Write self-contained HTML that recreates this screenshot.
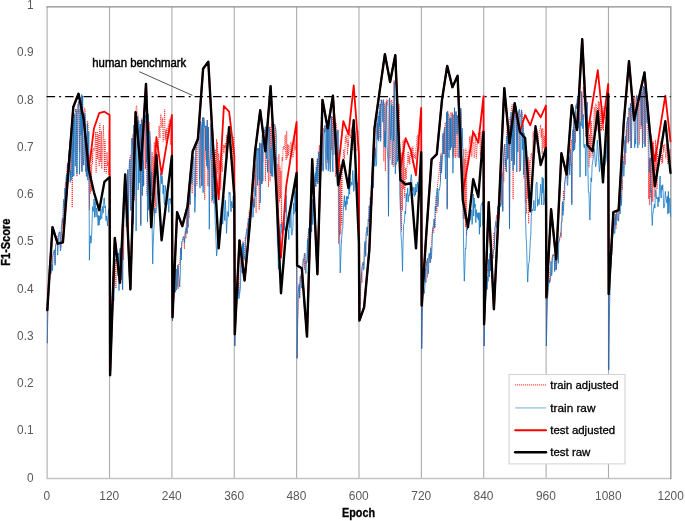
<!DOCTYPE html>
<html><head><meta charset="utf-8"><title>F1-Score by Epoch</title>
<style>html,body{margin:0;padding:0;background:#fff;}body{width:685px;height:521px;overflow:hidden;}</style>
</head><body>
<svg width="685" height="521" viewBox="0 0 685 521" style="display:block">
<rect x="0" y="0" width="685" height="521" fill="#ffffff"/>
<line x1="109.52" y1="6.8" x2="109.52" y2="478.6" stroke="#acacac" stroke-width="1.1"/>
<line x1="171.89" y1="6.8" x2="171.89" y2="478.6" stroke="#acacac" stroke-width="1.1"/>
<line x1="234.26" y1="6.8" x2="234.26" y2="478.6" stroke="#acacac" stroke-width="1.1"/>
<line x1="296.63" y1="6.8" x2="296.63" y2="478.6" stroke="#acacac" stroke-width="1.1"/>
<line x1="359.00" y1="6.8" x2="359.00" y2="478.6" stroke="#acacac" stroke-width="1.1"/>
<line x1="421.37" y1="6.8" x2="421.37" y2="478.6" stroke="#acacac" stroke-width="1.1"/>
<line x1="483.74" y1="6.8" x2="483.74" y2="478.6" stroke="#acacac" stroke-width="1.1"/>
<line x1="546.11" y1="6.8" x2="546.11" y2="478.6" stroke="#acacac" stroke-width="1.1"/>
<line x1="608.48" y1="6.8" x2="608.48" y2="478.6" stroke="#acacac" stroke-width="1.1"/>
<path d="M47.15,6.8 V478.6 H670.85" fill="none" stroke="#c2c2c2" stroke-width="1.5"/>
<path d="M46.45,6.8 H670.85 V479.3" fill="none" stroke="#8c8c8c" stroke-width="1.2"/>
<polyline points="47.3,343.2 47.8,309.1 48.3,278.9 48.9,284.0 49.4,266.1 49.9,261.0 50.4,260.0 50.9,258.7 51.5,270.1 52.0,268.2 52.5,256.1 53.0,254.7 53.5,250.8 54.1,251.1 54.6,249.8 55.1,263.3 55.6,245.4 56.1,243.7 56.6,240.1 57.2,237.9 57.7,236.0 58.2,234.9 58.7,235.6 59.2,232.2 59.8,232.3 60.3,232.2 60.8,247.9 61.3,241.0 61.8,224.4 62.4,218.6 62.9,228.9 63.4,205.1 63.9,199.4 64.4,218.0 65.0,188.0 65.5,182.0 66.0,192.5 66.5,174.2 67.0,167.3 67.6,162.8 68.1,175.6 68.6,154.2 69.1,150.0 69.6,164.8 70.2,139.6 70.7,174.6 71.2,136.3 71.7,133.8 72.2,207.4 72.7,168.1 73.3,119.9 73.8,152.3 74.3,114.0 74.8,113.3 75.3,112.7 75.9,108.5 76.4,112.3 76.9,176.6 77.4,112.7 77.9,104.3 78.5,112.6 79.0,110.1 79.5,151.7 80.0,105.4 80.5,97.5 81.1,135.2 81.6,171.1 82.1,162.7 82.6,95.7 83.1,149.0 83.7,165.3 84.2,155.5 84.7,107.9 85.2,112.1 85.7,167.7 86.2,176.8 86.8,176.3 87.3,120.9 87.8,122.2 88.3,127.8 88.8,164.3 89.4,209.9 89.9,167.2 90.4,193.7 90.9,164.5 91.4,191.1 92.0,149.0 92.5,163.5 93.0,151.0 93.5,148.1 94.0,150.4 94.6,150.3 95.1,145.1 95.6,131.8 96.1,172.6 96.6,141.0 97.2,131.5 97.7,159.2 98.2,134.5 98.7,151.0 99.2,166.3 99.8,123.5 100.3,151.5 100.8,162.0 101.3,131.1 101.8,168.8 102.3,154.8 102.9,139.4 103.4,124.9 103.9,148.9 104.4,171.7 104.9,139.5 105.5,164.0 106.0,173.4 106.5,173.0 107.0,152.0 107.5,165.8 108.1,161.7 108.6,175.0 109.1,129.9 109.6,169.7 110.1,370.1 110.7,336.5 111.2,307.6 111.7,301.2 112.2,294.2 112.7,290.7 113.3,284.3 113.8,276.4 114.3,267.5 114.8,259.9 115.3,259.0 115.9,288.3 116.4,259.7 116.9,255.6 117.4,255.3 117.9,253.3 118.4,253.0 119.0,279.6 119.5,252.3 120.0,248.3 120.5,247.8 121.0,279.8 121.6,249.2 122.1,282.7 122.6,289.6 123.1,233.6 123.6,260.0 124.2,205.5 124.7,199.1 125.2,196.8 125.7,184.2 126.2,184.0 126.8,211.3 127.3,213.7 127.8,169.6 128.3,229.9 128.8,193.5 129.4,163.1 129.9,157.2 130.4,155.4 130.9,210.5 131.4,200.0 132.0,138.2 132.5,145.2 133.0,134.2 133.5,195.5 134.0,125.0 134.5,200.8 135.1,122.5 135.6,117.4 136.1,107.0 136.6,105.6 137.1,111.3 137.7,113.7 138.2,115.0 138.7,120.6 139.2,129.0 139.7,131.8 140.3,124.1 140.8,223.9 141.3,118.6 141.8,119.5 142.3,195.6 142.9,160.5 143.4,179.8 143.9,184.8 144.4,109.8 144.9,123.0 145.5,169.0 146.0,120.6 146.5,162.5 147.0,195.6 147.5,161.4 148.1,113.8 148.6,166.4 149.1,121.9 149.6,130.8 150.1,134.7 150.6,143.3 151.2,187.5 151.7,159.5 152.2,152.2 152.7,194.1 153.2,156.5 153.8,194.4 154.3,141.9 154.8,213.4 155.3,144.9 155.8,206.5 156.4,152.0 156.9,163.5 157.4,143.9 157.9,141.5 158.4,151.7 159.0,125.9 159.5,132.4 160.0,138.0 160.5,115.9 161.0,114.3 161.6,127.3 162.1,127.0 162.6,117.8 163.1,141.6 163.6,140.5 164.1,121.0 164.7,109.6 165.2,139.8 165.7,130.3 166.2,143.3 166.7,128.5 167.3,141.7 167.8,129.0 168.3,124.5 168.8,130.7 169.3,119.5 169.9,130.1 170.4,144.9 170.9,128.5 171.4,126.5 171.9,147.0 172.5,321.0 173.0,302.4 173.5,301.7 174.0,280.6 174.5,276.6 175.1,292.8 175.6,269.8 176.1,268.9 176.6,269.3 177.1,286.4 177.7,265.2 178.2,288.9 178.7,263.8 179.2,264.9 179.7,260.5 180.2,256.4 180.8,247.8 181.3,254.1 181.8,241.6 182.3,240.1 182.8,238.5 183.4,236.8 183.9,236.6 184.4,249.0 184.9,236.7 185.4,230.9 186.0,238.4 186.5,213.0 187.0,232.8 187.5,218.7 188.0,227.4 188.6,202.4 189.1,218.3 189.6,186.1 190.1,204.7 190.6,174.5 191.2,168.0 191.7,183.9 192.2,193.3 192.7,159.0 193.2,156.8 193.8,156.1 194.3,186.0 194.8,184.4 195.3,197.0 195.8,146.9 196.3,148.3 196.9,185.7 197.4,138.0 197.9,135.1 198.4,139.1 198.9,128.7 199.5,179.3 200.0,176.9 200.5,121.4 201.0,124.3 201.5,186.1 202.1,122.6 202.6,117.7 203.1,125.8 203.6,117.4 204.1,119.6 204.7,199.7 205.2,125.9 205.7,150.6 206.2,160.3 206.7,128.4 207.3,120.1 207.8,185.9 208.3,126.7 208.8,163.0 209.3,186.8 209.9,159.9 210.4,123.4 210.9,124.5 211.4,139.3 211.9,202.4 212.4,144.3 213.0,177.7 213.5,153.0 214.0,198.1 214.5,153.0 215.0,195.7 215.6,149.4 216.1,193.3 216.6,139.0 217.1,173.4 217.6,142.2 218.2,187.6 218.7,153.3 219.2,170.0 219.7,160.6 220.2,163.2 220.8,189.9 221.3,162.3 221.8,164.6 222.3,171.9 222.8,147.9 223.4,144.7 223.9,153.0 224.4,145.3 224.9,148.0 225.4,142.8 226.0,155.8 226.5,135.2 227.0,159.5 227.5,142.0 228.0,134.1 228.5,133.6 229.1,140.7 229.6,144.4 230.1,149.6 230.6,159.0 231.1,148.8 231.7,157.5 232.2,158.9 232.7,145.3 233.2,136.9 233.7,136.7 234.3,151.2 234.8,346.0 235.3,320.1 235.8,298.5 236.3,294.2 236.9,291.5 237.4,288.2 237.9,286.1 238.4,282.8 238.9,294.0 239.5,290.2 240.0,274.6 240.5,267.5 241.0,259.9 241.5,254.8 242.1,261.7 242.6,242.0 243.1,241.2 243.6,264.8 244.1,253.3 244.6,251.0 245.2,237.3 245.7,239.4 246.2,233.5 246.7,229.5 247.2,227.3 247.8,222.5 248.3,235.4 248.8,216.3 249.3,210.6 249.8,219.8 250.4,224.3 250.9,204.2 251.4,199.6 251.9,200.8 252.4,197.4 253.0,196.8 253.5,207.1 254.0,182.2 254.5,174.9 255.0,187.0 255.6,164.4 256.1,212.9 256.6,150.8 257.1,148.3 257.6,150.3 258.1,148.7 258.7,148.2 259.2,209.7 259.7,142.9 260.2,186.1 260.7,143.4 261.3,143.6 261.8,184.0 262.3,139.8 262.8,161.9 263.3,130.8 263.9,128.9 264.4,132.7 264.9,129.3 265.4,181.2 265.9,130.4 266.5,158.4 267.0,166.3 267.5,172.2 268.0,159.9 268.5,187.1 269.1,126.6 269.6,132.7 270.1,181.2 270.6,127.3 271.1,148.4 271.7,123.3 272.2,128.2 272.7,122.0 273.2,149.8 273.7,123.7 274.2,124.9 274.8,162.5 275.3,126.7 275.8,185.4 276.3,169.9 276.8,157.0 277.4,205.2 277.9,163.9 278.4,222.5 278.9,154.1 279.4,202.3 280.0,166.6 280.5,198.2 281.0,171.0 281.5,227.2 282.0,157.1 282.6,161.0 283.1,146.5 283.6,146.7 284.1,149.6 284.6,144.4 285.2,134.9 285.7,153.6 286.2,160.2 286.7,131.0 287.2,158.3 287.8,144.2 288.3,155.7 288.8,145.2 289.3,147.0 289.8,147.6 290.3,159.6 290.9,141.9 291.4,145.3 291.9,147.2 292.4,143.4 292.9,157.5 293.5,153.4 294.0,151.0 294.5,138.4 295.0,149.9 295.5,147.0 296.1,145.2 296.6,135.9 297.1,358.3 297.6,324.3 298.1,311.0 298.7,288.3 299.2,283.4 299.7,298.3 300.2,277.0 300.7,274.8 301.3,273.9 301.8,284.9 302.3,267.6 302.8,265.2 303.3,259.0 303.9,258.8 304.4,269.9 304.9,253.4 305.4,264.3 305.9,263.6 306.4,261.0 307.0,262.3 307.5,240.0 308.0,234.9 308.5,231.2 309.0,227.8 309.6,244.8 310.1,219.9 310.6,217.4 311.1,210.1 311.6,220.6 312.2,200.6 312.7,198.9 313.2,210.9 313.7,188.7 314.2,181.6 314.8,179.1 315.3,175.8 315.8,186.7 316.3,166.8 316.8,162.4 317.4,158.6 317.9,183.5 318.4,182.0 318.9,152.4 319.4,145.1 319.9,176.2 320.5,135.7 321.0,163.0 321.5,163.5 322.0,133.0 322.5,134.0 323.1,170.1 323.6,128.4 324.1,129.4 324.6,126.3 325.1,125.3 325.7,131.6 326.2,129.2 326.7,123.6 327.2,124.8 327.7,163.0 328.3,145.2 328.8,121.9 329.3,156.3 329.8,161.8 330.3,169.0 330.9,124.2 331.4,116.5 331.9,150.2 332.4,116.3 332.9,155.1 333.5,120.8 334.0,122.3 334.5,116.0 335.0,124.5 335.5,176.9 336.0,122.8 336.6,127.1 337.1,163.3 337.6,157.5 338.1,153.4 338.6,243.9 339.2,150.3 339.7,235.7 340.2,164.4 340.7,234.0 341.2,165.3 341.8,224.5 342.3,170.8 342.8,165.7 343.3,156.0 343.8,149.4 344.4,158.8 344.9,150.7 345.4,135.7 345.9,142.9 346.4,142.0 347.0,134.2 347.5,154.6 348.0,140.5 348.5,146.5 349.0,130.4 349.6,135.5 350.1,134.3 350.6,138.2 351.1,128.7 351.6,133.3 352.1,126.8 352.7,150.4 353.2,136.2 353.7,127.5 354.2,138.1 354.7,148.9 355.3,132.4 355.8,150.0 356.3,150.7 356.8,150.2 357.3,138.1 357.9,130.8 358.4,141.6 358.9,150.7 359.4,320.5 359.9,302.2 360.5,303.6 361.0,281.2 361.5,272.8 362.0,283.0 362.5,264.9 363.1,262.4 363.6,265.3 364.1,251.6 364.6,245.7 365.1,243.0 365.7,255.0 366.2,233.1 366.7,229.9 367.2,226.9 367.7,232.4 368.2,227.5 368.8,213.3 369.3,205.5 369.8,220.5 370.3,197.6 370.8,202.5 371.4,184.5 371.9,180.2 372.4,174.1 372.9,169.6 373.4,161.6 374.0,156.7 374.5,152.3 375.0,147.9 375.5,156.7 376.0,140.5 376.6,130.3 377.1,123.2 377.6,134.3 378.1,115.8 378.6,116.4 379.2,138.4 379.7,110.0 380.2,103.8 380.7,137.8 381.2,99.7 381.8,100.9 382.3,105.1 382.8,104.3 383.3,99.8 383.8,161.4 384.3,102.8 384.9,131.1 385.4,171.2 385.9,106.3 386.4,99.6 386.9,105.7 387.5,103.4 388.0,99.5 388.5,214.5 389.0,130.3 389.5,97.9 390.1,159.4 390.6,140.2 391.1,135.1 391.6,99.9 392.1,101.5 392.7,104.8 393.2,166.7 393.7,98.0 394.2,80.1 394.7,164.5 395.3,166.9 395.8,162.9 396.3,95.1 396.8,99.1 397.3,157.9 397.9,160.4 398.4,134.9 398.9,103.9 399.4,107.7 399.9,148.7 400.4,209.8 401.0,153.3 401.5,231.3 402.0,152.6 402.5,210.4 403.0,140.6 403.6,188.9 404.1,139.6 404.6,197.6 405.1,188.1 405.6,167.9 406.2,179.3 406.7,168.2 407.2,166.5 407.7,155.1 408.2,151.5 408.8,162.9 409.3,155.7 409.8,164.8 410.3,152.5 410.8,155.0 411.4,156.6 411.9,147.3 412.4,162.8 412.9,146.7 413.4,154.1 413.9,158.1 414.5,153.6 415.0,156.9 415.5,159.0 416.0,147.8 416.5,146.0 417.1,135.7 417.6,135.3 418.1,144.3 418.6,141.5 419.1,142.5 419.7,150.5 420.2,158.4 420.7,165.0 421.2,154.9 421.7,348.8 422.3,316.5 422.8,301.3 423.3,284.4 423.8,279.4 424.3,275.0 424.9,280.2 425.4,268.5 425.9,266.8 426.4,264.8 426.9,260.9 427.5,277.5 428.0,269.0 428.5,257.5 429.0,255.1 429.5,254.4 430.0,252.7 430.6,261.7 431.1,258.0 431.6,238.3 432.1,233.4 432.6,228.8 433.2,226.7 433.7,232.8 434.2,219.0 434.7,227.9 435.2,226.4 435.8,202.7 436.3,195.7 436.8,212.7 437.3,188.0 437.8,182.6 438.4,177.8 438.9,173.1 439.4,169.3 439.9,161.7 440.4,180.6 441.0,153.1 441.5,170.2 442.0,161.8 442.5,138.5 443.0,134.5 443.6,153.9 444.1,131.2 444.6,154.2 445.1,122.6 445.6,122.5 446.1,157.4 446.7,112.4 447.2,207.4 447.7,110.7 448.2,150.7 448.7,114.1 449.3,116.3 449.8,118.1 450.3,150.0 450.8,112.3 451.3,114.8 451.9,114.8 452.4,112.2 452.9,156.5 453.4,114.7 453.9,157.6 454.5,107.8 455.0,147.9 455.5,157.8 456.0,111.6 456.5,115.9 457.1,157.2 457.6,115.6 458.1,118.4 458.6,119.4 459.1,157.8 459.7,134.0 460.2,137.2 460.7,108.2 461.2,115.2 461.7,164.8 462.2,164.5 462.8,172.3 463.3,218.6 463.8,149.0 464.3,219.1 464.8,158.9 465.4,227.1 465.9,148.7 466.4,235.6 466.9,165.5 467.4,160.9 468.0,151.2 468.5,151.8 469.0,151.4 469.5,136.6 470.0,143.6 470.6,141.9 471.1,135.6 471.6,156.8 472.1,156.6 472.6,129.8 473.2,143.0 473.7,142.6 474.2,157.8 474.7,154.3 475.2,139.5 475.8,134.2 476.3,158.6 476.8,152.9 477.3,143.3 477.8,142.8 478.3,132.4 478.9,135.4 479.4,127.7 479.9,137.6 480.4,155.6 480.9,131.9 481.5,142.4 482.0,145.0 482.5,130.1 483.0,158.4 483.5,157.9 484.1,346.0 484.6,317.8 485.1,293.6 485.6,287.9 486.1,281.9 486.7,275.6 487.2,273.0 487.7,268.7 488.2,271.9 488.7,259.4 489.3,276.9 489.8,256.0 490.3,270.7 490.8,247.5 491.3,258.3 491.8,243.8 492.4,255.1 492.9,258.1 493.4,249.3 493.9,232.6 494.4,244.2 495.0,227.6 495.5,224.6 496.0,219.7 496.5,215.3 497.0,227.5 497.6,230.0 498.1,206.0 498.6,203.3 499.1,198.4 499.6,194.6 500.2,191.2 500.7,204.9 501.2,202.7 501.7,174.0 502.2,171.7 502.8,209.7 503.3,157.6 503.8,181.7 504.3,146.6 504.8,144.3 505.4,170.4 505.9,159.2 506.4,135.4 506.9,130.1 507.4,127.7 507.9,125.9 508.5,158.5 509.0,125.4 509.5,227.2 510.0,117.5 510.5,143.0 511.1,112.3 511.6,107.4 512.1,104.4 512.6,114.1 513.1,199.3 513.7,106.3 514.2,164.8 514.7,109.6 515.2,110.6 515.7,116.8 516.3,120.2 516.8,140.0 517.3,117.7 517.8,114.9 518.3,112.4 518.9,110.9 519.4,171.8 519.9,114.4 520.4,116.7 520.9,113.1 521.5,109.9 522.0,111.1 522.5,120.0 523.0,124.4 523.5,129.2 524.0,178.3 524.6,156.1 525.1,153.6 525.6,202.8 526.1,153.8 526.6,213.8 527.2,172.4 527.7,198.8 528.2,156.9 528.7,223.6 529.2,160.7 529.8,203.5 530.3,164.3 530.8,157.4 531.3,153.1 531.8,155.7 532.4,165.3 532.9,132.4 533.4,131.2 533.9,136.9 534.4,132.5 535.0,142.2 535.5,143.9 536.0,143.5 536.5,139.6 537.0,129.7 537.6,149.6 538.1,153.0 538.6,135.1 539.1,132.2 539.6,130.6 540.1,128.3 540.7,124.8 541.2,137.6 541.7,128.8 542.2,154.1 542.7,128.1 543.3,132.6 543.8,148.1 544.3,135.7 544.8,151.9 545.3,124.8 545.9,124.9 546.4,346.0 546.9,315.9 547.4,297.3 547.9,293.4 548.5,276.8 549.0,268.4 549.5,282.1 550.0,280.9 550.5,280.6 551.1,261.3 551.6,258.7 552.1,257.7 552.6,255.2 553.1,254.5 553.6,254.8 554.2,254.5 554.7,271.3 555.2,262.5 555.7,252.3 556.2,269.0 556.8,264.5 557.3,246.4 557.8,245.1 558.3,244.6 558.8,241.3 559.4,241.1 559.9,237.4 560.4,235.5 560.9,232.3 561.4,237.4 562.0,208.0 562.5,201.9 563.0,210.7 563.5,190.6 564.0,198.1 564.6,199.7 565.1,178.6 565.6,176.3 566.1,173.2 566.6,170.7 567.2,169.0 567.7,178.7 568.2,162.3 568.7,160.2 569.2,159.2 569.7,170.7 570.3,149.4 570.8,143.7 571.3,139.8 571.8,203.1 572.3,133.1 572.9,130.0 573.4,127.2 573.9,150.2 574.4,142.9 574.9,115.3 575.5,142.6 576.0,105.4 576.5,103.6 577.0,106.6 577.5,97.9 578.1,121.0 578.6,100.9 579.1,95.3 579.6,133.8 580.1,91.2 580.7,93.4 581.2,122.1 581.7,94.7 582.2,120.1 582.7,114.6 583.3,87.0 583.8,95.6 584.3,93.1 584.8,87.4 585.3,93.0 585.8,136.6 586.4,131.4 586.9,122.6 587.4,144.2 587.9,143.9 588.4,122.3 589.0,167.2 589.5,134.4 590.0,157.9 590.5,120.7 591.0,150.2 591.6,121.4 592.1,157.3 592.6,136.7 593.1,136.0 593.6,129.8 594.2,107.1 594.7,110.4 595.2,129.4 595.7,103.9 596.2,103.9 596.8,130.9 597.3,107.5 597.8,111.6 598.3,100.9 598.8,111.5 599.4,102.1 599.9,130.7 600.4,130.5 600.9,109.7 601.4,130.7 601.9,111.6 602.5,129.0 603.0,106.2 603.5,130.8 604.0,111.6 604.5,114.5 605.1,119.2 605.6,114.7 606.1,107.1 606.6,116.5 607.1,107.4 607.7,114.6 608.2,102.8 608.7,370.1 609.2,326.2 609.7,283.8 610.3,269.5 610.8,267.7 611.3,242.8 611.8,251.2 612.3,229.8 612.9,236.4 613.4,220.1 613.9,218.0 614.4,226.2 614.9,215.8 615.5,214.0 616.0,228.9 616.5,212.1 617.0,211.1 617.5,211.6 618.0,218.5 618.6,221.2 619.1,204.4 619.6,201.8 620.1,200.8 620.6,193.7 621.2,205.5 621.7,180.0 622.2,190.0 622.7,165.7 623.2,160.6 623.8,155.8 624.3,158.4 624.8,140.2 625.3,164.8 625.8,143.7 626.4,129.5 626.9,143.1 627.4,121.1 627.9,117.2 628.4,143.2 629.0,107.9 629.5,110.2 630.0,141.2 630.5,103.4 631.0,148.1 631.5,106.3 632.1,103.4 632.6,100.7 633.1,102.7 633.6,98.4 634.1,121.6 634.7,95.8 635.2,133.3 635.7,140.1 636.2,98.3 636.7,95.5 637.3,98.4 637.8,95.9 638.3,99.4 638.8,100.1 639.3,144.5 639.9,94.0 640.4,92.0 640.9,129.2 641.4,91.4 641.9,90.6 642.5,146.6 643.0,88.7 643.5,86.1 644.0,143.7 644.5,87.2 645.1,146.9 645.6,83.5 646.1,94.6 646.6,98.0 647.1,99.1 647.6,125.9 648.2,146.5 648.7,198.9 649.2,158.5 649.7,205.1 650.2,158.1 650.8,197.5 651.3,145.2 651.8,201.4 652.3,142.4 652.8,201.9 653.4,141.8 653.9,186.9 654.4,156.9 654.9,197.0 655.4,139.9 656.0,170.7 656.5,147.9 657.0,189.2 657.5,152.6 658.0,154.9 658.6,163.6 659.1,166.0 659.6,149.5 660.1,150.3 660.6,141.3 661.2,146.7 661.7,163.4 662.2,154.6 662.7,163.1 663.2,145.0 663.7,151.6 664.3,145.0 664.8,143.9 665.3,151.4 665.8,158.3 666.3,152.0 666.9,143.1 667.4,158.5 667.9,164.2 668.4,153.6 668.9,163.2 669.5,153.7 670.0,149.1 670.5,163.0" fill="none" stroke="#ff0000" stroke-width="0.8" stroke-dasharray="1 1" stroke-linejoin="round"/>
<polyline points="47.3,343.2 47.8,309.1 48.3,292.6 48.9,285.4 49.4,266.1 49.9,273.2 50.4,258.6 50.9,273.7 51.5,270.1 52.0,264.6 52.5,270.7 53.0,254.7 53.5,252.9 54.1,251.3 54.6,249.8 55.1,265.3 55.6,246.0 56.1,243.7 56.6,242.0 57.2,237.9 57.7,255.1 58.2,244.1 58.7,235.6 59.2,232.2 59.8,231.8 60.3,251.0 60.8,250.1 61.3,227.3 61.8,224.4 62.4,218.6 62.9,221.9 63.4,205.1 63.9,199.4 64.4,206.3 65.0,188.0 65.5,205.3 66.0,178.9 66.5,174.2 67.0,192.8 67.6,163.8 68.1,175.6 68.6,154.2 69.1,165.9 69.6,164.8 70.2,182.3 70.7,170.5 71.2,180.1 71.7,133.8 72.2,127.0 72.7,176.9 73.3,119.9 73.8,176.1 74.3,114.0 74.8,120.1 75.3,166.2 75.9,109.2 76.4,112.3 76.9,174.2 77.4,147.1 77.9,110.7 78.5,101.3 79.0,110.1 79.5,174.4 80.0,151.8 80.5,101.6 81.1,135.2 81.6,94.5 82.1,171.8 82.6,95.7 83.1,164.7 83.7,165.3 84.2,155.5 84.7,113.6 85.2,118.3 85.7,171.5 86.2,158.5 86.8,176.3 87.3,123.7 87.8,180.2 88.3,157.0 88.8,131.4 89.4,260.2 89.9,241.9 90.4,235.7 90.9,243.3 91.4,240.3 92.0,224.7 92.5,206.7 93.0,211.4 93.5,211.2 94.0,199.0 94.6,217.3 95.1,201.9 95.6,209.9 96.1,217.0 96.6,207.9 97.2,211.0 97.7,218.8 98.2,225.6 98.7,215.4 99.2,225.0 99.8,215.9 100.3,219.9 100.8,209.1 101.3,217.9 101.8,218.6 102.3,206.3 102.9,213.3 103.4,212.6 103.9,198.3 104.4,197.9 104.9,208.0 105.5,206.1 106.0,220.7 106.5,216.0 107.0,219.2 107.5,225.9 108.1,215.7 108.6,208.9 109.1,213.6 109.6,214.2 110.1,370.1 110.7,351.4 111.2,307.4 111.7,317.7 112.2,303.8 112.7,310.9 113.3,284.3 113.8,301.0 114.3,283.0 114.8,259.9 115.3,261.6 115.9,261.0 116.4,260.2 116.9,255.6 117.4,253.2 117.9,276.1 118.4,253.0 119.0,290.6 119.5,252.3 120.0,248.3 120.5,248.7 121.0,279.8 121.6,249.2 122.1,249.5 122.6,289.6 123.1,233.6 123.6,218.3 124.2,205.5 124.7,199.1 125.2,197.3 125.7,207.4 126.2,226.8 126.8,222.4 127.3,221.7 127.8,169.6 128.3,219.7 128.8,193.5 129.4,163.1 129.9,159.5 130.4,179.1 130.9,210.5 131.4,150.2 132.0,138.2 132.5,145.2 133.0,224.1 133.5,195.5 134.0,125.0 134.5,195.2 135.1,122.5 135.6,117.4 136.1,231.0 136.6,163.9 137.1,116.0 137.7,116.5 138.2,190.0 138.7,120.6 139.2,183.0 139.7,131.8 140.3,124.1 140.8,225.8 141.3,127.1 141.8,119.5 142.3,195.5 142.9,160.5 143.4,186.3 143.9,117.9 144.4,109.8 144.9,123.0 145.5,115.2 146.0,120.6 146.5,162.5 147.0,122.0 147.5,221.9 148.1,113.8 148.6,210.2 149.1,178.4 149.6,130.8 150.1,138.5 150.6,143.3 151.2,195.6 151.7,171.9 152.2,231.2 152.7,263.9 153.2,244.8 153.8,230.5 154.3,222.0 154.8,207.6 155.3,211.4 155.8,213.2 156.4,209.7 156.9,206.0 157.4,189.7 157.9,194.4 158.4,186.5 159.0,195.6 159.5,201.3 160.0,193.9 160.5,173.2 161.0,173.0 161.6,183.7 162.1,175.6 162.6,181.5 163.1,193.9 163.6,185.2 164.1,201.8 164.7,205.2 165.2,185.5 165.7,189.7 166.2,192.6 166.7,204.7 167.3,192.0 167.8,193.0 168.3,204.1 168.8,212.4 169.3,198.7 169.9,199.9 170.4,198.4 170.9,204.0 171.4,203.3 171.9,199.0 172.5,321.0 173.0,310.0 173.5,284.8 174.0,280.6 174.5,285.0 175.1,272.2 175.6,292.1 176.1,268.9 176.6,290.0 177.1,286.4 177.7,265.2 178.2,266.0 178.7,274.9 179.2,278.0 179.7,287.0 180.2,277.4 180.8,247.8 181.3,259.9 181.8,241.6 182.3,241.4 182.8,240.2 183.4,236.8 183.9,236.6 184.4,243.1 184.9,236.7 185.4,230.9 186.0,227.6 186.5,228.0 187.0,233.9 187.5,204.4 188.0,227.4 188.6,203.6 189.1,196.8 189.6,186.1 190.1,204.7 190.6,177.1 191.2,168.0 191.7,183.9 192.2,183.1 192.7,159.0 193.2,156.8 193.8,158.6 194.3,186.0 194.8,212.3 195.3,203.9 195.8,146.9 196.3,148.3 196.9,144.6 197.4,138.8 197.9,135.1 198.4,139.5 198.9,135.9 199.5,180.2 200.0,188.2 200.5,121.4 201.0,124.3 201.5,128.9 202.1,185.8 202.6,117.7 203.1,192.8 203.6,117.4 204.1,119.6 204.7,127.2 205.2,125.9 205.7,150.9 206.2,125.8 206.7,166.2 207.3,120.1 207.8,169.1 208.3,127.0 208.8,163.0 209.3,229.2 209.9,159.9 210.4,159.3 210.9,125.8 211.4,125.1 211.9,183.4 212.4,200.0 213.0,163.8 213.5,171.5 214.0,203.6 214.5,194.5 215.0,217.4 215.6,230.0 216.1,242.8 216.6,255.9 217.1,251.2 217.6,241.1 218.2,233.7 218.7,230.1 219.2,230.9 219.7,231.3 220.2,218.4 220.8,219.0 221.3,207.3 221.8,224.7 222.3,206.1 222.8,223.9 223.4,198.3 223.9,196.0 224.4,217.6 224.9,220.6 225.4,200.2 226.0,213.5 226.5,233.3 227.0,223.6 227.5,212.3 228.0,211.4 228.5,216.5 229.1,192.3 229.6,194.2 230.1,192.5 230.6,207.3 231.1,211.8 231.7,201.3 232.2,205.7 232.7,207.9 233.2,195.8 233.7,200.5 234.3,217.2 234.8,346.0 235.3,320.1 235.8,297.4 236.3,294.3 236.9,291.5 237.4,287.5 237.9,295.6 238.4,282.8 238.9,298.8 239.5,294.5 240.0,291.4 240.5,286.9 241.0,259.9 241.5,254.8 242.1,273.0 242.6,243.7 243.1,259.4 243.6,242.7 244.1,253.3 244.6,258.8 245.2,260.5 245.7,239.4 246.2,233.5 246.7,231.2 247.2,228.4 247.8,242.3 248.3,218.0 248.8,231.9 249.3,219.9 249.8,223.1 250.4,224.3 250.9,204.2 251.4,202.2 251.9,201.2 252.4,197.4 253.0,217.4 253.5,207.1 254.0,198.9 254.5,207.4 255.0,187.0 255.6,196.2 256.1,159.0 256.6,151.9 257.1,148.3 257.6,185.5 258.1,148.7 258.7,148.2 259.2,179.9 259.7,142.9 260.2,203.1 260.7,184.0 261.3,143.6 261.8,184.0 262.3,135.1 262.8,181.3 263.3,130.8 263.9,133.4 264.4,132.7 264.9,132.6 265.4,126.7 265.9,153.2 266.5,158.4 267.0,131.5 267.5,172.2 268.0,159.9 268.5,129.8 269.1,126.9 269.6,132.7 270.1,170.6 270.6,173.4 271.1,148.4 271.7,176.3 272.2,129.5 272.7,176.6 273.2,154.1 273.7,123.7 274.2,124.9 274.8,124.2 275.3,127.4 275.8,129.3 276.3,134.9 276.8,203.6 277.4,244.3 277.9,247.8 278.4,269.3 278.9,261.5 279.4,247.6 280.0,249.6 280.5,241.4 281.0,223.7 281.5,231.0 282.0,234.0 282.6,234.6 283.1,222.0 283.6,228.6 284.1,222.2 284.6,230.3 285.2,198.7 285.7,212.1 286.2,195.2 286.7,220.7 287.2,226.0 287.8,230.3 288.3,230.0 288.8,239.5 289.3,215.1 289.8,228.0 290.3,224.1 290.9,202.2 291.4,233.1 291.9,235.2 292.4,231.6 292.9,227.9 293.5,203.1 294.0,214.1 294.5,189.9 295.0,195.5 295.5,211.7 296.1,192.0 296.6,190.5 297.1,358.3 297.6,324.3 298.1,293.2 298.7,288.3 299.2,285.2 299.7,297.9 300.2,277.0 300.7,275.8 301.3,288.2 301.8,284.9 302.3,285.4 302.8,265.5 303.3,259.0 303.9,258.8 304.4,253.5 304.9,253.4 305.4,268.5 305.9,273.5 306.4,261.0 307.0,262.3 307.5,239.3 308.0,260.6 308.5,231.2 309.0,227.9 309.6,244.8 310.1,236.6 310.6,238.1 311.1,210.1 311.6,232.0 312.2,200.0 312.7,224.6 313.2,210.9 313.7,210.3 314.2,181.6 314.8,179.1 315.3,172.5 315.8,186.7 316.3,166.8 316.8,181.9 317.4,158.6 317.9,183.5 318.4,151.8 318.9,152.7 319.4,177.2 319.9,179.0 320.5,140.7 321.0,171.2 321.5,154.4 322.0,133.0 322.5,167.3 323.1,171.3 323.6,168.9 324.1,129.4 324.6,132.7 325.1,125.3 325.7,163.2 326.2,169.6 326.7,123.6 327.2,159.6 327.7,124.6 328.3,171.1 328.8,125.7 329.3,119.5 329.8,161.8 330.3,171.8 330.9,123.3 331.4,116.5 331.9,150.2 332.4,162.0 332.9,171.9 333.5,120.8 334.0,119.3 334.5,120.5 335.0,154.4 335.5,150.4 336.0,143.5 336.6,174.1 337.1,130.5 337.6,173.2 338.1,129.8 338.6,175.4 339.2,226.8 339.7,239.4 340.2,272.9 340.7,261.5 341.2,246.7 341.8,235.5 342.3,229.5 342.8,227.8 343.3,210.9 343.8,203.0 344.4,195.6 344.9,206.7 345.4,201.1 345.9,210.2 346.4,196.3 347.0,204.7 347.5,196.4 348.0,199.0 348.5,198.5 349.0,181.7 349.6,194.1 350.1,178.2 350.6,186.4 351.1,183.7 351.6,182.0 352.1,185.1 352.7,170.4 353.2,177.7 353.7,191.4 354.2,189.3 354.7,173.9 355.3,170.8 355.8,172.8 356.3,180.4 356.8,186.8 357.3,182.7 357.9,186.6 358.4,192.3 358.9,205.7 359.4,320.5 359.9,302.2 360.5,287.4 361.0,281.2 361.5,272.8 362.0,266.6 362.5,264.9 363.1,262.4 363.6,269.9 364.1,269.5 364.6,245.7 365.1,241.1 365.7,256.5 366.2,233.1 366.7,230.8 367.2,226.9 367.7,235.7 368.2,219.0 368.8,221.8 369.3,205.9 369.8,221.7 370.3,197.6 370.8,202.5 371.4,198.3 371.9,181.2 372.4,174.1 372.9,181.6 373.4,187.7 374.0,156.7 374.5,166.3 375.0,147.9 375.5,156.7 376.0,166.2 376.6,163.0 377.1,123.2 377.6,139.5 378.1,115.8 378.6,141.2 379.2,111.3 379.7,127.2 380.2,103.8 380.7,141.4 381.2,99.7 381.8,103.7 382.3,104.8 382.8,122.2 383.3,99.8 383.8,105.9 384.3,146.8 384.9,131.1 385.4,147.7 385.9,106.3 386.4,102.2 386.9,144.4 387.5,154.8 388.0,158.8 388.5,216.3 389.0,146.7 389.5,97.9 390.1,102.0 390.6,140.2 391.1,135.1 391.6,104.6 392.1,164.7 392.7,156.2 393.2,105.8 393.7,141.1 394.2,82.0 394.7,97.2 395.3,173.8 395.8,162.9 396.3,164.3 396.8,99.1 397.3,161.8 397.9,157.4 398.4,154.8 398.9,156.6 399.4,132.0 399.9,194.7 400.4,206.9 401.0,235.2 401.5,241.7 402.0,250.6 402.5,271.3 403.0,244.7 403.6,224.9 404.1,223.5 404.6,218.7 405.1,211.3 405.6,214.0 406.2,193.4 406.7,201.7 407.2,194.9 407.7,188.2 408.2,201.9 408.8,194.8 409.3,196.0 409.8,189.2 410.3,185.6 410.8,177.6 411.4,174.4 411.9,182.6 412.4,190.6 412.9,187.1 413.4,187.5 413.9,195.8 414.5,196.4 415.0,187.2 415.5,195.1 416.0,183.9 416.5,192.0 417.1,192.1 417.6,182.0 418.1,187.6 418.6,189.2 419.1,192.4 419.7,177.0 420.2,188.5 420.7,195.0 421.2,189.0 421.7,348.8 422.3,316.5 422.8,297.7 423.3,284.4 423.8,291.3 424.3,293.5 424.9,286.5 425.4,268.5 425.9,282.6 426.4,264.8 426.9,260.9 427.5,258.2 428.0,273.9 428.5,273.2 429.0,253.5 429.5,254.4 430.0,263.0 430.6,247.6 431.1,258.9 431.6,255.8 432.1,244.3 432.6,229.7 433.2,226.7 433.7,222.5 434.2,219.0 434.7,227.9 435.2,206.2 435.8,210.7 436.3,195.7 436.8,191.8 437.3,188.0 437.8,206.7 438.4,202.1 438.9,189.3 439.4,190.1 439.9,186.9 440.4,183.3 441.0,155.5 441.5,173.2 442.0,161.8 442.5,157.6 443.0,133.4 443.6,153.9 444.1,131.2 444.6,127.0 445.1,156.9 445.6,179.0 446.1,152.8 446.7,112.4 447.2,209.3 447.7,111.9 448.2,150.7 448.7,156.9 449.3,157.9 449.8,118.1 450.3,150.0 450.8,117.9 451.3,147.5 451.9,114.8 452.4,114.4 452.9,173.2 453.4,149.2 453.9,142.8 454.5,107.8 455.0,147.9 455.5,113.7 456.0,111.6 456.5,115.9 457.1,134.4 457.6,115.6 458.1,118.4 458.6,118.8 459.1,157.8 459.7,134.0 460.2,156.8 460.7,108.2 461.2,115.2 461.7,147.4 462.2,128.2 462.8,149.2 463.3,221.5 463.8,259.3 464.3,281.2 464.8,269.8 465.4,248.1 465.9,248.9 466.4,236.6 466.9,227.9 467.4,230.0 468.0,222.4 468.5,226.4 469.0,215.3 469.5,222.1 470.0,213.3 470.6,220.3 471.1,209.6 471.6,210.3 472.1,224.4 472.6,217.7 473.2,194.0 473.7,216.1 474.2,198.1 474.7,207.6 475.2,204.0 475.8,222.7 476.3,209.6 476.8,216.4 477.3,217.7 477.8,212.9 478.3,220.1 478.9,212.4 479.4,234.3 479.9,213.0 480.4,227.2 480.9,206.8 481.5,203.7 482.0,204.4 482.5,201.7 483.0,225.4 483.5,217.1 484.1,346.0 484.6,317.8 485.1,293.8 485.6,299.4 486.1,292.8 486.7,273.9 487.2,289.4 487.7,276.5 488.2,281.3 488.7,259.4 489.3,277.0 489.8,253.4 490.3,270.7 490.8,249.4 491.3,245.5 491.8,264.0 492.4,255.1 492.9,258.5 493.4,249.3 493.9,249.8 494.4,249.4 495.0,227.6 495.5,225.0 496.0,221.4 496.5,226.1 497.0,228.2 497.6,207.2 498.1,206.0 498.6,219.6 499.1,208.2 499.6,206.6 500.2,203.3 500.7,206.8 501.2,203.8 501.7,174.0 502.2,195.4 502.8,211.6 503.3,157.6 503.8,152.6 504.3,146.6 504.8,144.3 505.4,165.4 505.9,159.2 506.4,172.0 506.9,136.0 507.4,159.4 507.9,125.9 508.5,125.4 509.0,125.4 509.5,229.1 510.0,142.5 510.5,143.0 511.1,112.3 511.6,160.9 512.1,155.9 512.6,114.1 513.1,170.3 513.7,107.6 514.2,164.8 514.7,151.3 515.2,115.7 515.7,116.8 516.3,118.9 516.8,172.0 517.3,117.7 517.8,152.1 518.3,115.0 518.9,110.9 519.4,109.2 519.9,116.1 520.4,170.7 520.9,159.8 521.5,109.9 522.0,115.0 522.5,149.6 523.0,124.4 523.5,174.8 524.0,132.9 524.6,153.9 525.1,194.0 525.6,220.3 526.1,237.7 526.6,244.7 527.2,268.4 527.7,282.1 528.2,270.8 528.7,263.3 529.2,262.1 529.8,252.2 530.3,239.9 530.8,234.9 531.3,216.2 531.8,211.2 532.4,209.3 532.9,211.1 533.4,207.9 533.9,200.4 534.4,210.4 535.0,211.0 535.5,208.5 536.0,184.6 536.5,182.5 537.0,182.3 537.6,206.2 538.1,199.2 538.6,201.7 539.1,204.6 539.6,198.1 540.1,193.8 540.7,184.2 541.2,195.0 541.7,204.8 542.2,177.2 542.7,193.2 543.3,178.3 543.8,204.9 544.3,201.1 544.8,197.1 545.3,188.9 545.9,193.7 546.4,346.0 546.9,315.9 547.4,301.6 547.9,293.4 548.5,287.6 549.0,279.2 549.5,283.1 550.0,281.5 550.5,274.6 551.1,261.3 551.6,275.8 552.1,272.6 552.6,255.2 553.1,254.5 553.6,256.0 554.2,255.8 554.7,271.3 555.2,262.8 555.7,252.3 556.2,270.0 556.8,248.9 557.3,246.4 557.8,245.1 558.3,263.4 558.8,241.3 559.4,241.1 559.9,237.2 560.4,235.5 560.9,232.3 561.4,221.9 562.0,222.0 562.5,201.9 563.0,215.4 563.5,209.3 564.0,198.1 564.6,182.0 565.1,181.2 565.6,176.3 566.1,175.3 566.6,170.8 567.2,183.5 567.7,185.5 568.2,162.3 568.7,160.2 569.2,156.5 569.7,174.9 570.3,149.4 570.8,165.3 571.3,164.0 571.8,205.0 572.3,154.9 572.9,130.1 573.4,151.3 573.9,119.9 574.4,149.9 574.9,147.8 575.5,109.4 576.0,105.4 576.5,108.7 577.0,101.7 577.5,97.9 578.1,128.4 578.6,97.5 579.1,95.3 579.6,147.3 580.1,177.1 580.7,121.9 581.2,126.1 581.7,91.4 582.2,120.1 582.7,128.7 583.3,114.4 583.8,146.2 584.3,147.8 584.8,144.2 585.3,147.8 585.8,176.1 586.4,144.5 586.9,129.8 587.4,102.2 587.9,167.8 588.4,192.2 589.0,192.1 589.5,216.1 590.0,220.1 590.5,199.0 591.0,177.8 591.6,181.6 592.1,165.5 592.6,162.9 593.1,158.4 593.6,156.7 594.2,148.7 594.7,151.9 595.2,162.5 595.7,166.7 596.2,163.9 596.8,153.9 597.3,140.2 597.8,145.9 598.3,154.5 598.8,162.6 599.4,171.7 599.9,167.7 600.4,147.4 600.9,164.1 601.4,159.0 601.9,158.5 602.5,174.4 603.0,174.6 603.5,165.2 604.0,156.1 604.5,161.8 605.1,164.7 605.6,155.2 606.1,139.3 606.6,156.0 607.1,162.5 607.7,162.8 608.2,165.5 608.7,370.1 609.2,326.2 609.7,302.0 610.3,278.8 610.8,267.7 611.3,243.6 611.8,254.6 612.3,229.8 612.9,233.9 613.4,232.4 613.9,218.0 614.4,233.5 614.9,233.3 615.5,215.4 616.0,225.0 616.5,212.1 617.0,213.4 617.5,219.9 618.0,220.3 618.6,221.2 619.1,204.6 619.6,203.3 620.1,214.0 620.6,194.9 621.2,205.5 621.7,199.8 622.2,175.0 622.7,165.7 623.2,160.6 623.8,176.4 624.3,168.6 624.8,141.6 625.3,136.2 625.8,153.0 626.4,129.5 626.9,121.6 627.4,121.1 627.9,117.2 628.4,141.3 629.0,107.9 629.5,110.2 630.0,110.3 630.5,103.4 631.0,148.1 631.5,146.7 632.1,103.4 632.6,100.7 633.1,105.6 633.6,102.7 634.1,121.6 634.7,147.8 635.2,139.6 635.7,144.2 636.2,99.0 636.7,95.5 637.3,101.6 637.8,147.9 638.3,100.1 638.8,100.1 639.3,96.4 639.9,99.7 640.4,95.2 640.9,95.9 641.4,125.5 641.9,93.0 642.5,147.8 643.0,88.7 643.5,86.1 644.0,93.9 644.5,87.2 645.1,146.9 645.6,136.6 646.1,96.3 646.6,98.0 647.1,122.8 647.6,101.4 648.2,114.0 648.7,131.2 649.2,172.3 649.7,166.1 650.2,157.7 650.8,191.9 651.3,189.9 651.8,215.0 652.3,225.4 652.8,214.1 653.4,210.9 653.9,207.0 654.4,204.0 654.9,208.1 655.4,190.8 656.0,189.7 656.5,198.8 657.0,197.3 657.5,197.8 658.0,206.8 658.6,196.9 659.1,201.7 659.6,183.6 660.1,176.0 660.6,193.3 661.2,198.1 661.7,185.6 662.2,190.1 662.7,184.7 663.2,193.6 663.7,208.1 664.3,207.2 664.8,202.6 665.3,191.4 665.8,196.1 666.3,199.2 666.9,203.0 667.4,196.4 667.9,214.1 668.4,191.4 668.9,213.0 669.5,198.1 670.0,199.2 670.5,216.8" fill="none" stroke="#0b73c2" stroke-width="0.75" stroke-linejoin="round"/>
<polyline points="47.3,310.2 52.5,227.2 57.7,243.7 62.9,242.3 68.1,174.4 73.3,107.0 78.5,93.8 83.7,119.2 88.8,169.7 94.0,128.2 99.2,113.1 104.4,111.7 109.6,115.0 110.1,375.2 114.8,238.0 120.0,282.8 125.2,174.4 130.4,289.4 135.6,112.1 140.8,170.1 146.0,83.9 151.2,227.2 156.4,137.1 161.6,174.4 166.7,144.2 171.9,115.0 172.5,317.2 177.1,212.1 182.3,226.2 187.5,206.4 192.7,151.3 197.9,139.0 203.1,68.8 208.3,61.7 213.5,153.2 218.7,199.4 223.9,106.0 229.1,111.7 234.3,155.5 234.8,334.2 239.5,240.4 244.6,280.5 249.8,224.4 255.0,152.2 260.2,110.3 265.4,151.3 270.6,86.2 275.8,180.0 281.0,257.8 286.2,186.2 291.4,153.2 296.6,122.0 297.1,265.4 301.8,268.2 307.0,336.6 312.2,159.3 317.4,274.3 322.5,99.9 327.7,128.2 332.9,95.6 338.1,170.1 343.3,121.1 348.5,134.3 353.7,85.3 358.9,154.6 359.4,320.5 364.1,307.3 369.3,250.3 374.5,128.2 379.7,90.9 384.9,54.1 390.1,82.0 395.3,55.1 400.4,169.7 405.6,138.1 410.8,150.3 416.0,175.3 421.2,107.9 421.7,305.5 426.4,232.4 431.6,159.3 436.8,154.1 442.0,99.9 447.2,65.9 452.4,87.2 457.6,75.8 462.8,192.3 468.0,163.5 473.2,131.9 478.3,142.8 483.5,96.1 484.1,324.3 488.7,202.2 493.9,309.2 499.1,202.2 504.3,88.1 509.5,143.3 514.7,103.2 519.9,131.9 525.1,115.0 530.3,125.3 535.5,109.3 540.7,117.3 545.9,105.5 546.4,297.4 551.1,209.3 556.2,259.3 561.4,153.2 566.6,174.4 571.8,105.1 577.0,130.1 582.2,39.1 587.4,135.2 592.6,102.2 597.8,70.2 603.0,123.0 608.2,83.9 608.7,294.1 613.4,212.1 618.6,210.2 623.8,122.0 629.0,61.2 634.1,120.2 639.3,96.1 644.5,72.5 649.7,130.1 654.9,161.2 660.1,128.2 665.3,95.6 670.5,141.4" fill="none" stroke="#ff0000" stroke-width="1.8" stroke-linejoin="round" stroke-linecap="round"/>
<polyline points="47.3,310.2 52.5,227.2 57.7,243.7 62.9,242.3 68.1,174.4 73.3,107.0 78.5,93.8 83.7,119.2 88.8,169.7 94.0,192.3 99.2,210.2 104.4,181.9 109.6,177.2 110.1,375.2 114.8,238.0 120.0,282.8 125.2,174.4 130.4,289.4 135.6,112.1 140.8,170.1 146.0,83.9 151.2,227.2 156.4,155.1 161.6,240.4 166.7,198.4 171.9,156.0 172.5,317.2 177.1,212.1 182.3,226.2 187.5,206.4 192.7,151.3 197.9,139.0 203.1,68.8 208.3,61.7 213.5,153.2 218.7,248.4 223.9,187.6 229.1,127.2 234.3,195.6 234.8,334.2 239.5,240.4 244.6,280.5 249.8,224.4 255.0,152.2 260.2,110.3 265.4,151.3 270.6,86.2 275.8,180.0 281.0,293.2 286.2,230.0 291.4,202.2 296.6,173.0 297.1,265.4 301.8,268.2 307.0,336.6 312.2,159.3 317.4,274.3 322.5,99.9 327.7,128.2 332.9,95.6 338.1,185.2 343.3,160.2 348.5,188.1 353.7,120.2 358.9,242.8 359.4,320.5 364.1,307.3 369.3,250.3 374.5,128.2 379.7,90.9 384.9,54.1 390.1,82.0 395.3,55.1 400.4,180.0 405.6,184.3 410.8,183.3 416.0,248.4 421.2,152.2 421.7,305.5 426.4,232.4 431.6,159.3 436.8,154.1 442.0,99.9 447.2,65.9 452.4,87.2 457.6,75.8 462.8,200.3 468.0,227.2 473.2,179.1 478.3,197.0 483.5,131.9 484.1,324.3 488.7,202.2 493.9,309.2 499.1,202.2 504.3,88.1 509.5,143.3 514.7,103.2 519.9,131.9 525.1,138.1 530.3,211.2 535.5,126.3 540.7,165.0 545.9,148.0 546.4,297.4 551.1,209.3 556.2,259.3 561.4,153.2 566.6,174.4 571.8,105.1 577.0,130.1 582.2,39.1 587.4,145.1 592.6,151.3 597.8,111.2 603.0,182.4 608.2,94.2 608.7,294.1 613.4,212.1 618.6,210.2 623.8,122.0 629.0,61.2 634.1,120.2 639.3,96.1 644.5,72.5 649.7,130.1 654.9,186.2 660.1,154.1 665.3,121.1 670.5,173.0" fill="none" stroke="#000000" stroke-width="2.4" stroke-linejoin="round" stroke-linecap="round"/>
<line x1="46.6" y1="96.6" x2="670.7" y2="96.6" stroke="#000" stroke-width="1.35" stroke-dasharray="8.5 4.05 2 3.95"/>
<line x1="139.3" y1="71.7" x2="192.4" y2="95.4" stroke="#262626" stroke-width="0.8"/>
<text x="92.3" y="67.0" font-family="'Liberation Sans', Arial, sans-serif" font-size="12.1" fill="#000" stroke="#000" stroke-width="0.45" textLength="94" lengthAdjust="spacingAndGlyphs">human benchmark</text>
<text x="33.6" y="481.6" font-family="'Liberation Sans', Arial, sans-serif" font-size="12.3" fill="#595959" text-anchor="end" textLength="6.6" lengthAdjust="spacingAndGlyphs">0</text>
<text x="33.6" y="434.4" font-family="'Liberation Sans', Arial, sans-serif" font-size="12.3" fill="#595959" text-anchor="end" textLength="16.5" lengthAdjust="spacingAndGlyphs">0.1</text>
<text x="33.6" y="387.1" font-family="'Liberation Sans', Arial, sans-serif" font-size="12.3" fill="#595959" text-anchor="end" textLength="16.5" lengthAdjust="spacingAndGlyphs">0.2</text>
<text x="33.6" y="339.9" font-family="'Liberation Sans', Arial, sans-serif" font-size="12.3" fill="#595959" text-anchor="end" textLength="16.5" lengthAdjust="spacingAndGlyphs">0.3</text>
<text x="33.6" y="292.6" font-family="'Liberation Sans', Arial, sans-serif" font-size="12.3" fill="#595959" text-anchor="end" textLength="16.5" lengthAdjust="spacingAndGlyphs">0.4</text>
<text x="33.6" y="245.3" font-family="'Liberation Sans', Arial, sans-serif" font-size="12.3" fill="#595959" text-anchor="end" textLength="16.5" lengthAdjust="spacingAndGlyphs">0.5</text>
<text x="33.6" y="198.1" font-family="'Liberation Sans', Arial, sans-serif" font-size="12.3" fill="#595959" text-anchor="end" textLength="16.5" lengthAdjust="spacingAndGlyphs">0.6</text>
<text x="33.6" y="150.8" font-family="'Liberation Sans', Arial, sans-serif" font-size="12.3" fill="#595959" text-anchor="end" textLength="16.5" lengthAdjust="spacingAndGlyphs">0.7</text>
<text x="33.6" y="103.6" font-family="'Liberation Sans', Arial, sans-serif" font-size="12.3" fill="#595959" text-anchor="end" textLength="16.5" lengthAdjust="spacingAndGlyphs">0.8</text>
<text x="33.6" y="56.4" font-family="'Liberation Sans', Arial, sans-serif" font-size="12.3" fill="#595959" text-anchor="end" textLength="16.5" lengthAdjust="spacingAndGlyphs">0.9</text>
<text x="33.6" y="9.1" font-family="'Liberation Sans', Arial, sans-serif" font-size="12.3" fill="#595959" text-anchor="end" textLength="6.6" lengthAdjust="spacingAndGlyphs">1</text>
<text x="46.9" y="499.8" font-family="'Liberation Sans', Arial, sans-serif" font-size="12.3" fill="#595959" text-anchor="middle" textLength="6.6" lengthAdjust="spacingAndGlyphs">0</text>
<text x="109.3" y="499.8" font-family="'Liberation Sans', Arial, sans-serif" font-size="12.3" fill="#595959" text-anchor="middle" textLength="19.9" lengthAdjust="spacingAndGlyphs">120</text>
<text x="171.7" y="499.8" font-family="'Liberation Sans', Arial, sans-serif" font-size="12.3" fill="#595959" text-anchor="middle" textLength="19.9" lengthAdjust="spacingAndGlyphs">240</text>
<text x="234.1" y="499.8" font-family="'Liberation Sans', Arial, sans-serif" font-size="12.3" fill="#595959" text-anchor="middle" textLength="19.9" lengthAdjust="spacingAndGlyphs">360</text>
<text x="296.4" y="499.8" font-family="'Liberation Sans', Arial, sans-serif" font-size="12.3" fill="#595959" text-anchor="middle" textLength="19.9" lengthAdjust="spacingAndGlyphs">480</text>
<text x="358.8" y="499.8" font-family="'Liberation Sans', Arial, sans-serif" font-size="12.3" fill="#595959" text-anchor="middle" textLength="19.9" lengthAdjust="spacingAndGlyphs">600</text>
<text x="421.2" y="499.8" font-family="'Liberation Sans', Arial, sans-serif" font-size="12.3" fill="#595959" text-anchor="middle" textLength="19.9" lengthAdjust="spacingAndGlyphs">720</text>
<text x="483.5" y="499.8" font-family="'Liberation Sans', Arial, sans-serif" font-size="12.3" fill="#595959" text-anchor="middle" textLength="19.9" lengthAdjust="spacingAndGlyphs">840</text>
<text x="545.9" y="499.8" font-family="'Liberation Sans', Arial, sans-serif" font-size="12.3" fill="#595959" text-anchor="middle" textLength="19.9" lengthAdjust="spacingAndGlyphs">960</text>
<text x="608.3" y="499.8" font-family="'Liberation Sans', Arial, sans-serif" font-size="12.3" fill="#595959" text-anchor="middle" textLength="26.4" lengthAdjust="spacingAndGlyphs">1080</text>
<text x="670.6" y="499.8" font-family="'Liberation Sans', Arial, sans-serif" font-size="12.3" fill="#595959" text-anchor="middle" textLength="26.4" lengthAdjust="spacingAndGlyphs">1200</text>
<text x="358.5" y="517.4" font-family="'Liberation Sans', Arial, sans-serif" font-size="11.9" font-weight="bold" fill="#000" stroke="#000" stroke-width="0.3" text-anchor="middle" textLength="33" lengthAdjust="spacingAndGlyphs">Epoch</text>
<text transform="translate(10.1,242.2) rotate(-90)" font-family="'Liberation Sans', Arial, sans-serif" font-size="12.4" font-weight="bold" fill="#000" stroke="#000" stroke-width="0.35" text-anchor="middle" textLength="46.9" lengthAdjust="spacingAndGlyphs">F1-Score</text>
<rect x="509.1" y="374.5" width="115.9" height="89.4" fill="#fff" stroke="#d4d4d4" stroke-width="1.1"/>
<line x1="515.2" y1="384.9" x2="546" y2="384.9" stroke="#ff0000" stroke-width="1" stroke-dasharray="1 1"/>
<text x="550.3" y="388.8" font-family="'Liberation Sans', Arial, sans-serif" font-size="11.6" fill="#000" stroke="#000" stroke-width="0.3" textLength="68.2" lengthAdjust="spacingAndGlyphs">train adjusted</text>
<line x1="515.2" y1="407.9" x2="546" y2="407.9" stroke="#9cc3e6" stroke-width="1.4"/>
<text x="550.3" y="411.8" font-family="'Liberation Sans', Arial, sans-serif" font-size="11.6" fill="#000" stroke="#000" stroke-width="0.3" textLength="45.1" lengthAdjust="spacingAndGlyphs">train raw</text>
<line x1="515.2" y1="430.3" x2="546" y2="430.3" stroke="#ff0000" stroke-width="2.1" stroke-linecap="round"/>
<text x="550.3" y="434.2" font-family="'Liberation Sans', Arial, sans-serif" font-size="11.6" fill="#000" stroke="#000" stroke-width="0.3" textLength="64.8" lengthAdjust="spacingAndGlyphs">test adjusted</text>
<line x1="515.2" y1="452.3" x2="546" y2="452.3" stroke="#000" stroke-width="2.5" stroke-linecap="round"/>
<text x="550.3" y="456.2" font-family="'Liberation Sans', Arial, sans-serif" font-size="11.6" fill="#000" stroke="#000" stroke-width="0.3" textLength="40.1" lengthAdjust="spacingAndGlyphs">test raw</text>
</svg>
</body></html>
